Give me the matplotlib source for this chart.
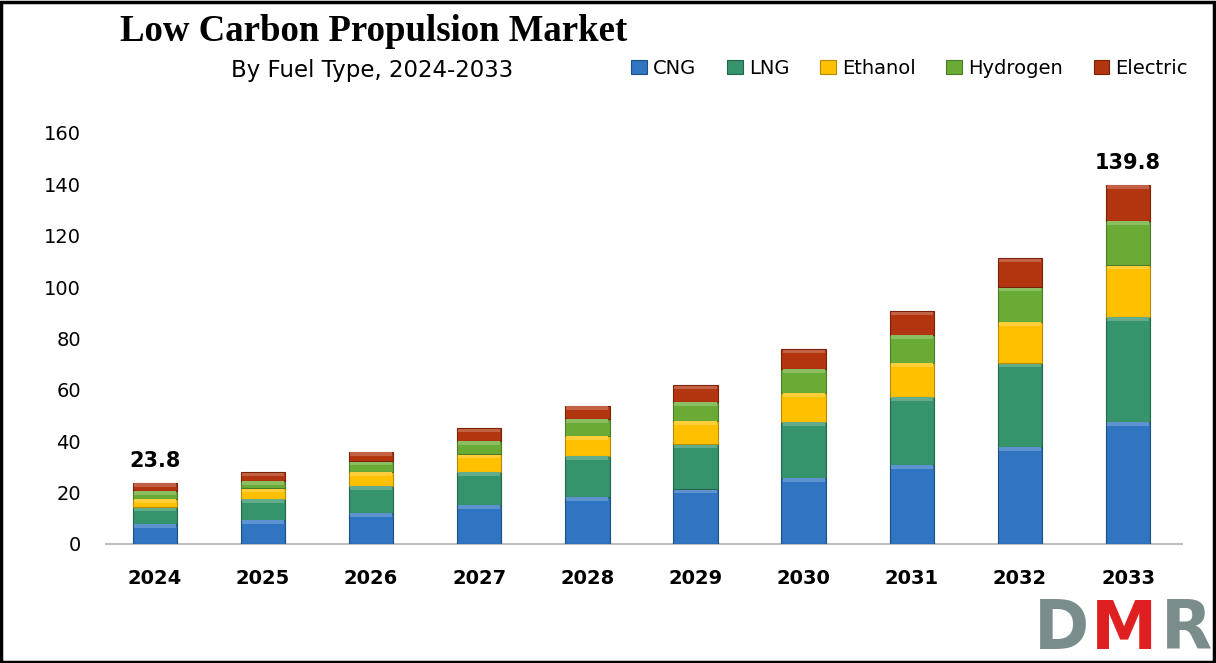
import matplotlib
matplotlib.use("Agg")
import matplotlib.pyplot as plt
from matplotlib.patches import Rectangle
import matplotlib.colors as mcolors
import numpy as np

years = ["2024", "2025", "2026", "2027", "2028", "2029", "2030", "2031", "2032", "2033"]
cng = [7.9, 9.3, 12.2, 15.2, 18.4, 21.3, 25.8, 30.8, 37.9, 47.6]
lng = [6.4, 8.2, 10.5, 12.9, 15.9, 17.5, 21.8, 26.5, 32.4, 40.9]
ethanol = [3.4, 4.2, 5.4, 6.8, 7.7, 9.2, 11.3, 13.3, 16.2, 20.0]
hydrogen = [3.0, 2.9, 4.1, 5.3, 6.7, 7.3, 9.2, 10.8, 13.4, 17.2]
electric = [3.1, 3.3, 3.7, 4.8, 5.1, 6.5, 7.7, 9.2, 11.3, 14.1]
series_names = ["CNG", "LNG", "Ethanol", "Hydrogen", "Electric"]
annot_idx = [0, 9]
annot_text = ["23.8", "139.8"]
yticks = [0, 20, 40, 60, 80, 100, 120, 140, 160]

colors = ["#2F75C1", "#36946C", "#FFC000", "#6AAB35", "#B2350F"]
edges = ["#1F4E80", "#23644A", "#B88A00", "#4A7A25", "#7A2208"]

def lighten(c, f):
    r, g, b = mcolors.to_rgb(c)
    return (r + (1 - r) * f, g + (1 - g) * f, b + (1 - b) * f)

fig = plt.figure(figsize=(12.16, 6.63), dpi=100)
ax = fig.add_axes([0.0872, 0.1795, 0.885, 0.6199])

x = np.arange(len(years))
data = [cng, lng, ethanol, hydrogen, electric]
bottom = np.zeros(len(years))
bevel = 1.4
for vals, name, c, ec in zip(data, series_names, colors, edges):
    v = np.array(vals)
    ax.bar(x, v, 0.41, bottom=bottom, color=c, edgecolor=ec, linewidth=0.8, label=name, zorder=3)
    ax.bar(x, np.full(len(x), bevel), 0.39, bottom=bottom + v - bevel - 0.15,
           color=lighten(c, 0.22), linewidth=0, zorder=4)
    bottom = bottom + v

totals = bottom
for i, t in zip(annot_idx, annot_text):
    ax.text(x[i], totals[i] + 4.5, t, ha="center", va="bottom", fontsize=15,
            fontweight="bold", family="DejaVu Sans")

ax.set_xlim(-0.45, 9.5)
ax.set_ylim(0, 160)
ax.set_yticks(yticks)
ax.set_yticklabels([str(v) for v in yticks], fontsize=14, family="DejaVu Sans")
ax.set_xticks(x)
ax.set_xticklabels(years, fontsize=14, fontweight="bold", family="DejaVu Sans")
ax.tick_params(axis="both", length=0)
ax.tick_params(axis="x", pad=18)
ax.tick_params(axis="y", pad=18)
for s in ["top", "right", "left"]:
    ax.spines[s].set_visible(False)
ax.spines["bottom"].set_color("#BFBFBF")
ax.spines["bottom"].set_linewidth(1.5)

fig.text(0.307, 0.952, "Low Carbon Propulsion Market", ha="center", va="center",
         fontsize=26.5, fontweight="bold", family="Liberation Serif")
fig.text(0.306, 0.893, "By Fuel Type, 2024-2033", ha="center", va="center",
         fontsize=16.5, family="DejaVu Sans")

leg = fig.legend(loc="center", bbox_to_anchor=(0.748, 0.897), ncol=5, frameon=False,
                 handlelength=0.8, handleheight=0.8, handletextpad=0.3,
                 columnspacing=1.6, prop={"family": "DejaVu Sans", "size": 14})
for h in leg.legend_handles:
    h.set_linewidth(0.8)

# logo
fig.text(0.873, 0.05, "D", ha="center", va="center", fontsize=48, fontweight="bold",
         color="#7A8C8C", family="DejaVu Sans")
fig.text(0.924, 0.05, "M", ha="center", va="center", fontsize=48, fontweight="bold",
         color="#E02020", family="DejaVu Sans")
fig.text(0.976, 0.05, "R", ha="center", va="center", fontsize=48, fontweight="bold",
         color="#7A8C8C", family="DejaVu Sans")

fig.patches.append(Rectangle((0.001, 0.002), 0.997, 0.995, transform=fig.transFigure,
                             fill=False, edgecolor="black", linewidth=2.5))

fig.savefig("out.png", dpi=100)
